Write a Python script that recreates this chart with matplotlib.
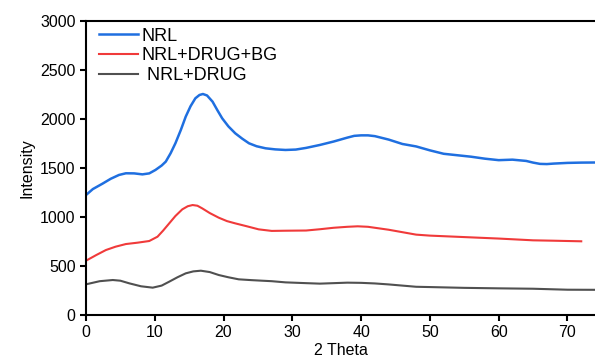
import numpy as np
import matplotlib
matplotlib.use("Agg")
import matplotlib.pyplot as plt

plt.rcParams['font.family'] = ['Liberation Sans', 'DejaVu Sans']
plt.rcParams['font.size'] = 11.5

# 2 theta positions and intensities
x_nrl = [0, 1, 2.4, 3.6, 4.8, 5.8, 7, 8.2, 9.2, 10.1, 11, 11.6, 12.3, 13, 13.8, 14.5,
         15.2, 15.9, 16.5, 17, 17.6, 18.4, 19.1, 19.8, 20.7, 21.7, 22.7, 23.7, 24.8,
         26.1, 27.5, 29, 30.5, 32, 34, 36, 38, 39, 40, 41, 42, 44, 46, 48, 50, 52, 54,
         56, 58, 60, 62, 64, 65, 66, 67, 68, 70, 72, 74]
nrl = [1224, 1285, 1340, 1390, 1429, 1446, 1445, 1435, 1445, 1480, 1525, 1565, 1650,
       1752, 1890, 2024, 2130, 2211, 2245, 2255, 2240, 2177, 2090, 2007, 1925, 1854,
       1800, 1752, 1722, 1701, 1690, 1684, 1688, 1705, 1735, 1770, 1810, 1828, 1833,
       1833, 1825, 1790, 1745, 1720, 1680, 1645, 1630, 1615, 1595, 1580, 1585, 1572,
       1555, 1542, 1540, 1545, 1552, 1555, 1556]

x_bg = [0, 1.5, 2.9, 4.3, 5.8, 7.5, 9.2, 10.4, 11.2, 12.1, 13, 14, 14.8, 15.5, 16.2,
        16.9, 18, 19.3, 20.5, 21.7, 23.4, 25.1, 27, 29, 32, 34, 36, 38, 39.5, 41, 42,
        44, 46, 48, 50, 55, 60, 65, 68, 72]
nrl_drug_bg = [554, 612, 663, 697, 724, 738, 755, 799, 860, 935, 1010, 1078, 1110,
               1122, 1115, 1088, 1040, 993, 958, 935, 905, 874, 858, 860, 862, 875, 890,
               900, 905, 900, 890, 870, 845, 820, 810, 795, 780, 762, 758, 752]

x_drug = [0, 2, 3.9, 5, 6.3, 8, 9.7, 11, 12.1, 13.3, 14.5, 15.6, 16.7, 18, 19.3, 20.7,
          22.2, 24, 25.6, 27, 29, 32, 34, 36, 38, 40, 42, 44, 46, 48, 50, 55, 60, 65,
          70, 74]
nrl_drug = [313, 345, 357, 350, 323, 293, 279, 300, 340, 385, 425, 445, 452, 438, 408,
            385, 364, 356, 350, 345, 333, 325, 320, 325, 330, 328, 322, 312, 300, 288,
            285, 277, 272, 268, 258, 257]

fig = plt.figure(figsize=(5.95, 3.6), dpi=100)
ax = fig.add_axes([0.1445, 0.125, 0.8555, 0.8167])

ax.plot(x_nrl, nrl, color='#1f6fe0', lw=1.8, label='NRL')
ax.plot(x_bg, nrl_drug_bg, color='#f03a3a', lw=1.5, label='NRL+DRUG+BG')
ax.plot(x_drug, nrl_drug, color='#505050', lw=1.5, label=' NRL+DRUG')

ax.set_xlim(0, 74)
ax.set_ylim(0, 3000)
ax.set_xticks(range(0, 80, 10))
ax.set_yticks(range(0, 3001, 500))
ax.set_xlabel('2 Theta', labelpad=2)
ax.set_ylabel('Intensity', labelpad=4)

for s in ['left', 'bottom', 'top']:
    ax.spines[s].set_linewidth(1.5)
ax.spines['right'].set_visible(False)
ax.tick_params(width=1.5, length=4, direction='out')

ax.legend(loc='upper left', bbox_to_anchor=(0.0, 1.02), frameon=False,
          handlelength=2.2, handletextpad=0.2, borderaxespad=0.3,
          labelspacing=0.15, fontsize=13)

plt.savefig('out.png', dpi=100)
